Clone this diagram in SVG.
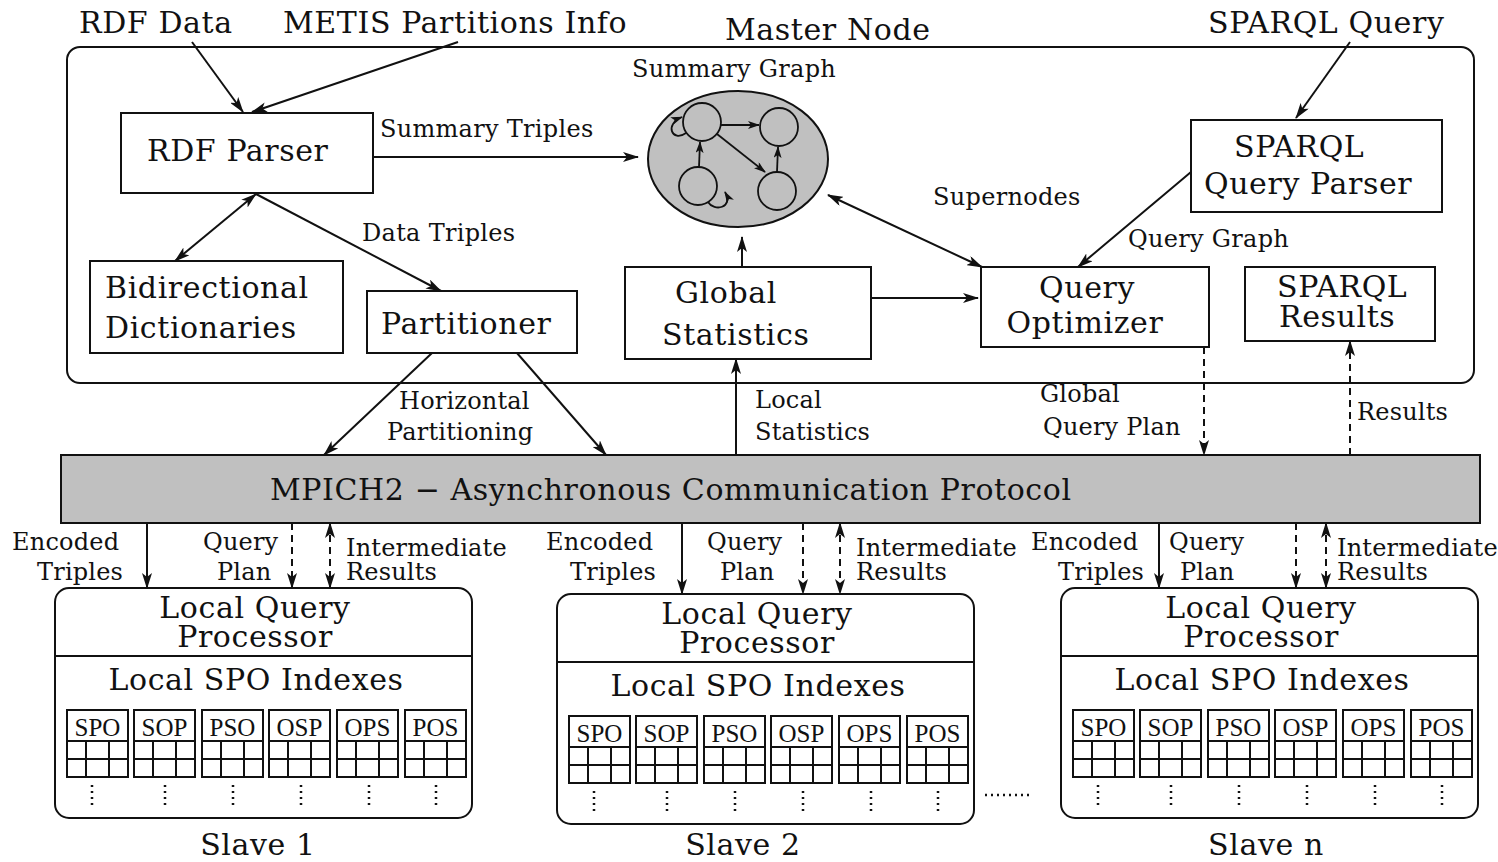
<svg xmlns="http://www.w3.org/2000/svg" xmlns:xlink="http://www.w3.org/1999/xlink" width="1498" height="862" viewBox="0 0 1498 862">
  <style>
    text { font-family: "DejaVu Serif", "Liberation Serif", serif; fill: #111; }
    .big { font-size: 30px; letter-spacing: 0.6px; }
    .lbl { font-size: 24px; letter-spacing: 0.2px; }
    .sm { font-size: 24px; letter-spacing: 0.3px; }
    .idx { font-family: "Liberation Serif", "DejaVu Serif", serif; font-size: 25px; }
    .box { fill: #fff; stroke: #111; stroke-width: 2; }
    .grey { fill: #c0c0c0; stroke: #111; stroke-width: 2; }
    .ln { fill: none; stroke: #111; stroke-width: 2; }
    .thin { fill: none; stroke: #111; stroke-width: 1.8; }
    .dash { stroke-dasharray: 7 5; }
    .dots { fill: none; stroke: #111; stroke-width: 2.5; stroke-dasharray: 2 4; }
    .arr { marker-end: url(#ah); }
    .arr2 { marker-start: url(#ah); marker-end: url(#ah); }
  </style>
  <defs>
    <marker id="ah" markerUnits="userSpaceOnUse" viewBox="0 0 16 10" markerWidth="16" markerHeight="10" refX="15" refY="5" orient="auto-start-reverse">
      <path d="M0,0 L16,5 L0,10 L4,5 z" fill="#111"/>
    </marker>
    <marker id="ahs" markerUnits="userSpaceOnUse" viewBox="0 0 12 8" markerWidth="12" markerHeight="8" refX="11" refY="4" orient="auto">
      <path d="M0,0 L12,4 L0,8 L3,4 z" fill="#111"/>
    </marker>

    <!-- one index table: header + 2 rows x 3 columns -->
    <g id="tbl">
      <rect x="0" y="0" width="61" height="67" class="ln"/>
      <line x1="0" y1="31" x2="61" y2="31" class="ln"/>
      <line x1="0" y1="49" x2="61" y2="49" class="ln"/>
      <line x1="19" y1="31" x2="19" y2="67" class="ln"/>
      <line x1="42" y1="31" x2="42" y2="67" class="ln"/>
    </g>

    <!-- slave body, local coordinates from the box's top-left corner -->
    <g id="slaveBody">
      <rect x="0" y="0" width="417" height="230" rx="14" class="box"/>
      <line x1="0" y1="68" x2="417" y2="68" class="ln"/>
      <text x="200" y="30" class="big" text-anchor="middle">Local Query</text>
      <text x="200" y="59" class="big" text-anchor="middle">Processor</text>
      <text x="201" y="102" class="big" text-anchor="middle">Local SPO Indexes</text>
      <use xlink:href="#tbl" x="12" y="122"/>
      <use xlink:href="#tbl" x="79" y="122"/>
      <use xlink:href="#tbl" x="147" y="122"/>
      <use xlink:href="#tbl" x="214" y="122"/>
      <use xlink:href="#tbl" x="282" y="122"/>
      <use xlink:href="#tbl" x="350" y="122"/>
      <text x="42.5" y="148" class="idx" text-anchor="middle">SPO</text>
      <text x="109.5" y="148" class="idx" text-anchor="middle">SOP</text>
      <text x="177.5" y="148" class="idx" text-anchor="middle">PSO</text>
      <text x="244.5" y="148" class="idx" text-anchor="middle">OSP</text>
      <text x="312.5" y="148" class="idx" text-anchor="middle">OPS</text>
      <text x="380.5" y="148" class="idx" text-anchor="middle">POS</text>
      <path d="M37,197 V221 M110,197 V221 M178,197 V221 M246,197 V221 M314,197 V221 M381,197 V221" class="dots"/>
    </g>
  </defs>

  <rect width="1498" height="862" fill="#fff"/>

  <!-- master node container -->
  <g id="master">
    <rect x="67" y="47" width="1407" height="336" rx="13" class="box" fill="none"/>
    <text x="725" y="40" class="big">Master Node</text>
  </g>

  <!-- external inputs -->
  <g id="rdf-data"><text x="79" y="33" class="big">RDF Data</text></g>
  <g id="metis-info"><text x="283" y="33" class="big">METIS Partitions Info</text></g>
  <g id="sparql-query"><text x="1208" y="33" class="big" letter-spacing="1.1">SPARQL Query</text></g>

  <g id="rdf-parser">
    <rect x="121" y="113" width="252" height="80" class="box"/>
    <text x="147" y="161" class="big">RDF Parser</text>
  </g>

  <g id="dictionaries">
    <rect x="90" y="261" width="253" height="92" class="box"/>
    <text x="105" y="298" class="big">Bidirectional</text>
    <text x="105" y="338" class="big">Dictionaries</text>
  </g>

  <g id="partitioner">
    <rect x="367" y="291" width="210" height="62" class="box"/>
    <text x="381" y="334" class="big">Partitioner</text>
  </g>

  <g id="summary-graph">
    <text x="632" y="77" class="sm" letter-spacing="0.8">Summary Graph</text>
    <ellipse cx="738" cy="159" rx="90" ry="68" class="grey"/>
    <circle cx="702" cy="122" r="19" class="thin"/>
    <circle cx="779" cy="127" r="19" class="thin"/>
    <circle cx="698" cy="186" r="19" class="thin"/>
    <circle cx="777" cy="191" r="19" class="thin"/>
    <line x1="721" y1="125" x2="759" y2="125" class="thin" marker-end="url(#ahs)"/>
    <line x1="717" y1="134" x2="765" y2="172" class="thin" marker-end="url(#ahs)"/>
    <line x1="699" y1="167" x2="700" y2="142" class="thin" marker-end="url(#ahs)"/>
    <line x1="777" y1="172" x2="778" y2="147" class="thin" marker-end="url(#ahs)"/>
    <path d="M686,133 C672,143 664,124 682,117" class="thin" marker-end="url(#ahs)"/>
    <path d="M708,202 C714,212 734,208 725,192" class="thin" marker-end="url(#ahs)"/>
  </g>

  <g id="global-statistics">
    <rect x="625" y="267" width="246" height="92" class="box"/>
    <text x="675" y="303" class="big">Global</text>
    <text x="662" y="345" class="big">Statistics</text>
  </g>

  <g id="query-optimizer">
    <rect x="981" y="267" width="228" height="80" class="box"/>
    <text x="1087" y="298" class="big" text-anchor="middle">Query</text>
    <text x="1085" y="333" class="big" text-anchor="middle">Optimizer</text>
  </g>

  <g id="sparql-parser">
    <rect x="1191" y="120" width="251" height="92" class="box"/>
    <text x="1234" y="157" class="big">SPARQL</text>
    <text x="1204" y="194" class="big">Query Parser</text>
  </g>

  <g id="sparql-results">
    <rect x="1245" y="267" width="190" height="74" class="box"/>
    <text x="1277" y="297" class="big">SPARQL</text>
    <text x="1279" y="327" class="big">Results</text>
  </g>

  <g id="mpich">
    <rect x="61" y="455" width="1419" height="68" class="grey"/>
    <text x="270" y="500" class="big">MPICH2 − Asynchronous Communication Protocol</text>
  </g>

  <g id="slave-1">
    <use xlink:href="#slaveBody" x="55" y="588"/>
    <text x="258" y="855" class="big" text-anchor="middle">Slave 1</text>
  </g>
  <g id="slave-2">
    <use xlink:href="#slaveBody" x="557" y="594"/>
    <text x="743" y="855" class="big" text-anchor="middle">Slave 2</text>
    <path d="M985,795 H1032" class="dots" stroke-width="2" stroke-dasharray="2 3"/>
  </g>
  <g id="slave-n">
    <use xlink:href="#slaveBody" x="1061" y="588"/>
    <text x="1266" y="855" class="big" text-anchor="middle">Slave n</text>
  </g>

  <!-- connectors -->
  <g id="connectors">
    <line x1="192" y1="42" x2="243" y2="112" class="ln arr"/>
    <line x1="458" y1="42" x2="252" y2="112" class="ln arr"/>
    <line x1="1350" y1="42" x2="1296" y2="118" class="ln arr"/>

    <line x1="373" y1="157" x2="638" y2="157" class="ln arr"/>
    <text x="380" y="137" class="sm">Summary Triples</text>

    <line x1="256" y1="194" x2="175" y2="261" class="ln arr2"/>
    <line x1="256" y1="194" x2="441" y2="291" class="ln arr"/>
    <text x="362" y="241" class="sm">Data Triples</text>

    <line x1="828" y1="195" x2="982" y2="267" class="ln arr2"/>
    <text x="933" y="205" class="sm">Supernodes</text>

    <line x1="1191" y1="172" x2="1078" y2="267" class="ln arr"/>
    <text x="1128" y="247" class="sm" letter-spacing="0.7">Query Graph</text>

    <line x1="742" y1="267" x2="742" y2="237" class="ln arr"/>
    <line x1="871" y1="298" x2="978" y2="298" class="ln arr"/>

    <line x1="432" y1="353" x2="324" y2="455" class="ln arr"/>
    <line x1="517" y1="353" x2="606" y2="455" class="ln arr"/>
    <text x="399" y="409" class="lbl">Horizontal</text>
    <text x="387" y="440" class="lbl">Partitioning</text>

    <line x1="736" y1="455" x2="736" y2="359" class="ln arr"/>
    <text x="755" y="408" class="lbl">Local</text>
    <text x="755" y="440" class="lbl">Statistics</text>

    <line x1="1204" y1="347" x2="1204" y2="455" class="ln dash arr"/>
    <text x="1040" y="402" class="lbl">Global</text>
    <text x="1043" y="435" class="lbl">Query Plan</text>

    <line x1="1350" y1="455" x2="1350" y2="341" class="ln dash arr"/>
    <text x="1357" y="420" class="lbl">Results</text>

    <!-- slave 1 links -->
    <line x1="147" y1="523" x2="147" y2="588" class="ln arr"/>
    <line x1="292" y1="523" x2="292" y2="588" class="ln dash arr"/>
    <line x1="330" y1="523" x2="330" y2="588" class="ln dash arr2"/>
    <text x="12" y="550" class="lbl">Encoded</text>
    <text x="37" y="580" class="lbl">Triples</text>
    <text x="203" y="550" class="lbl">Query</text>
    <text x="217" y="580" class="lbl">Plan</text>
    <text x="346" y="556" class="lbl">Intermediate</text>
    <text x="346" y="580" class="lbl">Results</text>

    <!-- slave 2 links -->
    <line x1="682" y1="523" x2="682" y2="594" class="ln arr"/>
    <line x1="803" y1="523" x2="803" y2="594" class="ln dash arr"/>
    <line x1="840" y1="523" x2="840" y2="594" class="ln dash arr2"/>
    <text x="546" y="550" class="lbl">Encoded</text>
    <text x="570" y="580" class="lbl">Triples</text>
    <text x="707" y="550" class="lbl">Query</text>
    <text x="720" y="580" class="lbl">Plan</text>
    <text x="856" y="556" class="lbl">Intermediate</text>
    <text x="856" y="580" class="lbl">Results</text>

    <!-- slave n links -->
    <line x1="1159" y1="523" x2="1159" y2="588" class="ln arr"/>
    <line x1="1296" y1="523" x2="1296" y2="588" class="ln dash arr"/>
    <line x1="1326" y1="523" x2="1326" y2="588" class="ln dash arr2"/>
    <text x="1031" y="550" class="lbl">Encoded</text>
    <text x="1058" y="580" class="lbl">Triples</text>
    <text x="1169" y="550" class="lbl">Query</text>
    <text x="1180" y="580" class="lbl">Plan</text>
    <text x="1337" y="556" class="lbl">Intermediate</text>
    <text x="1337" y="580" class="lbl">Results</text>
  </g>
</svg>
